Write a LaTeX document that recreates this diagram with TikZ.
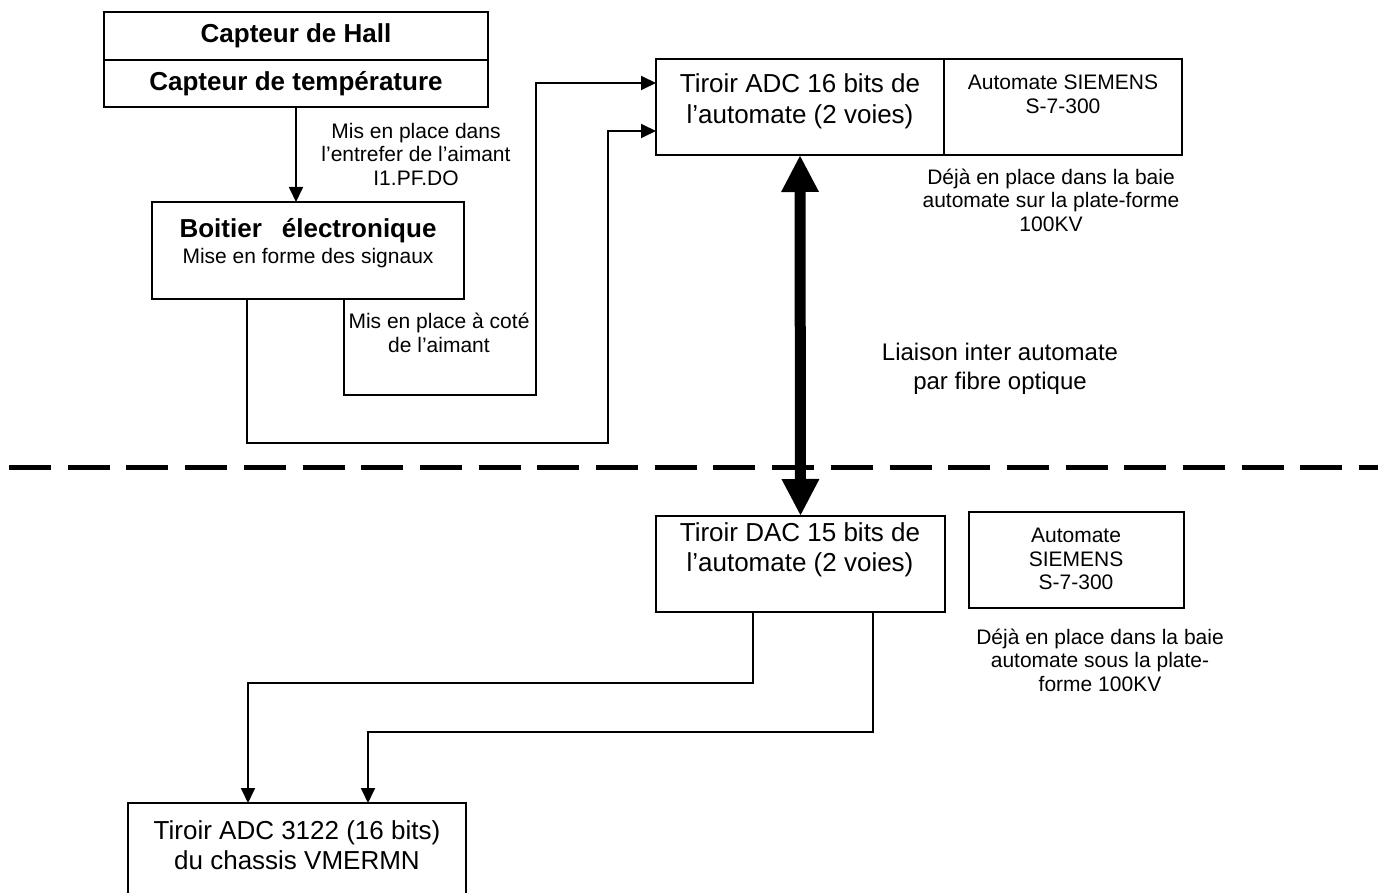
\documentclass[tikz,border=0pt]{standalone}
\usepackage{fontspec}
\setmainfont{Liberation Sans}
\usetikzlibrary{arrows.meta}
\newcommand\grand{\fontsize{26}{30.5}\selectfont}
\newcommand\moyen{\fontsize{24}{29}\selectfont}
\newcommand\petit{\fontsize{21}{23.5}\selectfont}
\tikzset{
    bloc/.style={draw, line width=1.8pt, inner sep=0pt, outer sep=0pt, anchor=north west},
    texte/.style={align=center, inner sep=0pt, font=\petit},
    fil/.style={line width=1.8pt, -{Triangle[length=15pt, width=14pt]}},
    liaison/.style={line width=11pt,
        {Triangle[length=37pt, width=35pt]}-{Triangle[length=37pt, width=35pt]}},
    frontiere/.style={line width=5pt, dash pattern=on 42pt off 16.7pt},
}

\begin{document}
\begin{tikzpicture}[x=1pt, y=-1pt]
    \useasboundingbox (0,0) rectangle (1383,893);

    % capteurs et boitier
    \node[bloc, minimum width=384, minimum height=48, font=\grand\bfseries] (hall) at (104,12) {Capteur de Hall};
    \node[bloc, minimum width=384, minimum height=47, font=\grand\bfseries] (temp) at (hall.south west) {Capteur de température};
    \node[bloc, minimum width=312, minimum height=97] (boitier) at (152,202) {};
    \node[texte] (boitiertxt) at (308,243) {{\grand\bfseries Boitier\hspace{20pt}électronique}\\[3pt]Mise en forme des signaux};
    \node[texte] (entrefer) at (416,154) {Mis en place dans\\l’entrefer de l’aimant\\I1.PF.DO};
    \node[texte] (acote) at (439,333) {Mis en place à coté\\de l’aimant};

    % automate sur la plate-forme
    \node[bloc, minimum width=288, minimum height=96] (adc) at (656,59) {};
    \node[texte, font=\grand] (adctxt) at (800,101.5) {Tiroir ADC 16 bits de\\l’automate (2 voies)};
    \node[bloc, minimum width=238, minimum height=96] (siemhaut) at (adc.north east) {};
    \node[texte] (siemhauttxt) at (1063,94.5) {Automate SIEMENS\\S-7-300};
    \node[texte] (baiehaut) at (1051,200) {Déjà en place dans la baie\\automate sur la plate-forme\\100KV};

    \node[texte, font=\moyen] (fibre) at (1000,369) {Liaison inter automate\\par fibre optique};

    % automate sous la plate-forme
    \node[bloc, minimum width=289, minimum height=96] (dac) at (656,516) {};
    \node[texte, font=\grand] (dactxt) at (800,550) {Tiroir DAC 15 bits de\\l’automate (2 voies)};
    \node[bloc, minimum width=215, minimum height=96] (siembas) at (969,512) {};
    \node[texte] (siembastxt) at (1076,559) {Automate\\SIEMENS\\S-7-300};
    \node[texte] (baiebas) at (1100,660) {Déjà en place dans la baie\\automate sous la plate-\\forme 100KV};

    % chassis VME
    \node[bloc, minimum width=338, minimum height=100] (vme) at (128,803) {};
    \node[texte, font=\grand] (vmetxt) at (297,845) {Tiroir ADC 3122 (16 bits)\\du chassis VMERMN};

    % liaisons
    \draw[fil] (temp.south) -- (temp.south |- boitier.north);
    \draw[fil] (344,0 |- boitier.south) |- (536,395) |- (adc.west |- 0,83);
    \draw[fil] (247,0 |- boitier.south) |- (608,443) |- (adc.west |- 0,131);
    \draw[fil] (753,0 |- dac.south) |- (248,683) -- (248,0 |- vme.north);
    \draw[fil] (873,0 |- dac.south) |- (368,732) -- (368,0 |- vme.north);

    \draw[frontiere] (9,467) -- (1378,467);
    \draw[liaison] (adc.south) -- (dac.north);

\end{tikzpicture}
\end{document}
